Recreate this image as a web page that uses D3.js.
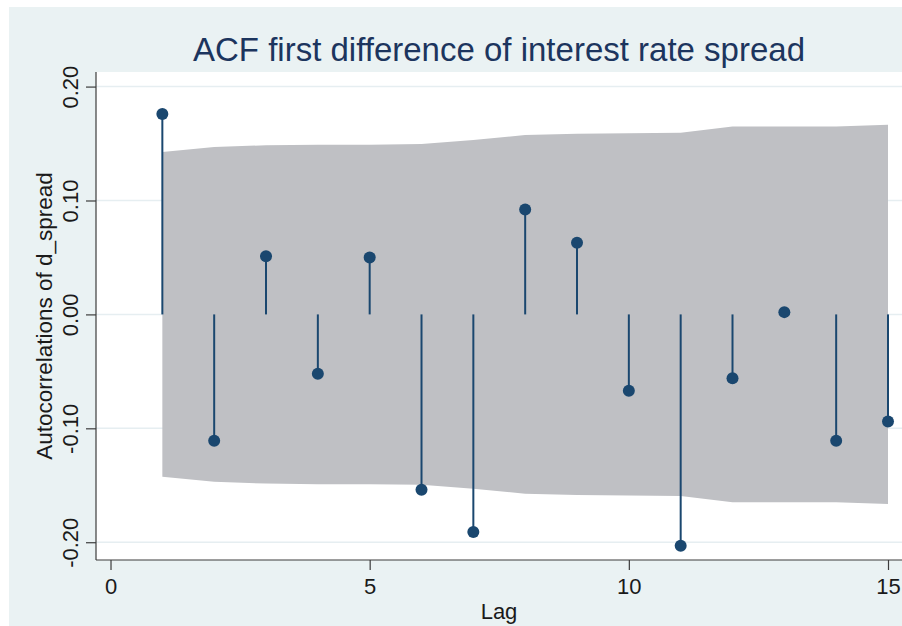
<!DOCTYPE html>
<html>
<head>
<meta charset="utf-8">
<script src="https://cdn.jsdelivr.net/npm/d3@7"></script>
<style>
  html, body { margin: 0; padding: 0; background: #ffffff; }
  svg { display: block; }
  text { font-family: "Liberation Sans", Arial, sans-serif; }
</style>
</head>
<body>
<svg id="chart" width="902" height="626"></svg>
<script>
// ---- data ----
const lags = [1, 2, 3, 4, 5, 6, 7, 8, 9, 10, 11, 12, 13, 14, 15];
const acf = [0.176, -0.111, 0.051, -0.052, 0.050, -0.154, -0.191, 0.092, 0.063, -0.067, -0.203, -0.056, 0.002, -0.111, -0.094];
const bandUpper = [0.1425, 0.147, 0.1485, 0.149, 0.149, 0.1495, 0.153, 0.1575, 0.1585, 0.159, 0.1595, 0.165, 0.165, 0.165, 0.1665];
const xTicks = [0, 5, 10, 15];
const yTicks = [-0.20, -0.10, 0.00, 0.10, 0.20];
const titleText = "ACF first difference of interest rate spread";
const xTitle = "Lag";
const yTitle = "Autocorrelations of d_spread";

// ---- layout ----
const svg = d3.select("#chart");
const W = 902, H = 626;
const plot = { left: 96, right: 902, top: 72, bottom: 560 };

const x = d3.scaleLinear().domain([-0.28, 15.27]).range([plot.left, plot.right]);
const y = d3.scaleLinear().domain([-0.2156, 0.2128]).range([plot.bottom, plot.top]);

const navy = "#1a476f";
const loc = d3.formatLocale({ decimal: ".", thousands: ",", grouping: [3], currency: ["", ""], minus: "-" });

// outer background
svg.append("rect").attr("x", 9).attr("y", 7).attr("width", W - 9).attr("height", H - 7)
  .attr("fill", "#eaf2f3");
// plot region
svg.append("rect").attr("x", plot.left).attr("y", plot.top)
  .attr("width", plot.right - plot.left).attr("height", plot.bottom - plot.top)
  .attr("fill", "#ffffff");

// gridlines
svg.append("g").selectAll("line").data(yTicks).join("line")
  .attr("x1", plot.left).attr("x2", plot.right)
  .attr("y1", d => y(d)).attr("y2", d => y(d))
  .attr("stroke", "#e6eef1").attr("stroke-width", 1.5);

// confidence band
const bandData = lags.map((l, i) => ({ lag: l, u: bandUpper[i] }));
svg.append("path").datum(bandData)
  .attr("d", d3.area().x(d => x(d.lag)).y0(d => y(-d.u)).y1(d => y(d.u)))
  .attr("fill", "#bfc0c4");

// stems
const pts = lags.map((l, i) => ({ lag: l, v: acf[i] }));
svg.append("g").selectAll("line").data(pts).join("line")
  .attr("x1", d => x(d.lag)).attr("x2", d => x(d.lag))
  .attr("y1", y(0)).attr("y2", d => y(d.v))
  .attr("stroke", navy).attr("stroke-width", 2);
svg.append("g").selectAll("circle").data(pts).join("circle")
  .attr("cx", d => x(d.lag)).attr("cy", d => y(d.v)).attr("r", 6)
  .attr("fill", navy);

// axes
const axisColor = "#3c3c3c";
const xAxis = d3.axisBottom(x).tickValues(xTicks).tickFormat(loc.format("d")).tickSize(10).tickPadding(8);
const gx = svg.append("g").attr("transform", `translate(0,${plot.bottom})`).call(xAxis);
gx.select(".domain").attr("stroke", axisColor).attr("stroke-width", 1.2)
  .attr("d", `M${plot.left},0H${plot.right}`);
gx.selectAll(".tick line").attr("stroke", axisColor).attr("stroke-width", 1.2);
gx.selectAll(".tick text").attr("font-size", 22).attr("fill", "#1a1a1a")
  .attr("font-family", "Liberation Sans, Arial, sans-serif");

const yAxis = d3.axisLeft(y).tickValues(yTicks).tickFormat(loc.format(".2f")).tickSize(10).tickPadding(0);
const gy = svg.append("g").attr("transform", `translate(${plot.left},0)`).call(yAxis);
gy.select(".domain").attr("stroke", axisColor).attr("stroke-width", 1.2)
  .attr("d", `M0,${plot.top}V${plot.bottom}`);
gy.selectAll(".tick line").attr("stroke", axisColor).attr("stroke-width", 1.2);
gy.selectAll(".tick text")
  .attr("x", null).attr("dy", null)
  .attr("transform", "translate(-18,0) rotate(-90)")
  .attr("text-anchor", "middle")
  .attr("font-size", 22).attr("fill", "#1a1a1a")
  .attr("font-family", "Liberation Sans, Arial, sans-serif");

// titles
svg.append("text").attr("x", (plot.left + plot.right) / 2).attr("y", 61)
  .attr("text-anchor", "middle").attr("font-size", 33).attr("fill", "#1c355e")
  .text(titleText);
svg.append("text").attr("x", (plot.left + plot.right) / 2).attr("y", 619)
  .attr("text-anchor", "middle").attr("font-size", 22).attr("fill", "#1a1a1a")
  .text(xTitle);
svg.append("text").attr("transform", `translate(52,${(plot.top + plot.bottom) / 2}) rotate(-90)`)
  .attr("text-anchor", "middle").attr("font-size", 22.5).attr("fill", "#1a1a1a")
  .text(yTitle);
</script>
</body>
</html>
